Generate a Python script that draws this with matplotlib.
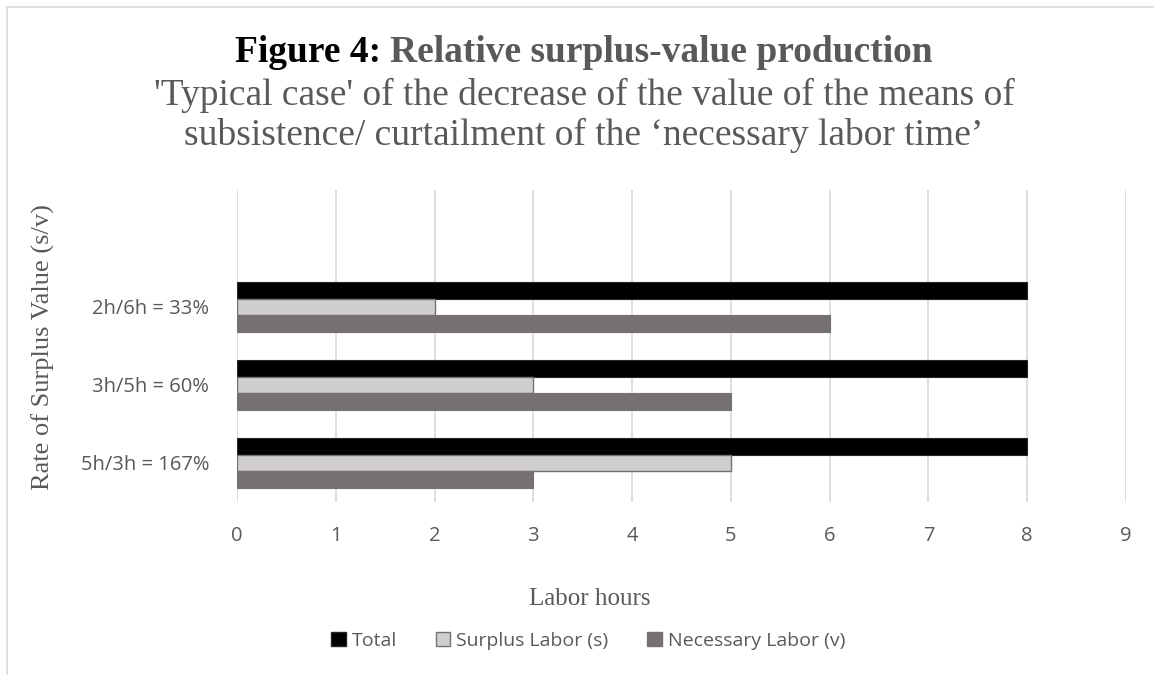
import matplotlib
matplotlib.use("Agg")
import matplotlib.pyplot as plt
from matplotlib.lines import Line2D
from matplotlib.patches import Patch
import numpy as np

categories = ["5h/3h = 167%", "3h/5h = 60%", "2h/6h = 33%"]
total = [8, 8, 8]
surplus = [5, 3, 2]
necessary = [3, 5, 6]
xticks = list(range(0, 10))

W, H = 1154, 675
fig = plt.figure(figsize=(W/100, H/100), dpi=100)
ax = fig.add_axes([237/W, 1-502/H, (1126-237)/W, (502-190)/H])

y = np.arange(len(categories))
h = 0.215
ax.barh(y + h, total, height=h, color="#000000", edgecolor="#262626", linewidth=0.8, zorder=3, label="Total")
ax.barh(y, surplus, height=h, color="#d0cece", edgecolor="#767171", linewidth=1.0, zorder=3, label="Surplus Labor (s)")
ax.barh(y - h, necessary, height=h, color="#767171", edgecolor="#767171", linewidth=0.8, zorder=3, label="Necessary Labor (v)")

ax.set_xlim(0, 9)
ax.set_ylim(-0.5, 3.5)
ax.set_xticks(xticks)
ax.set_yticks(y)
ax.set_yticklabels(categories)
ax.grid(axis="x", color="#d9d9d9", linewidth=1.2, zorder=0)
for s in ax.spines.values():
    s.set_visible(False)
ax.tick_params(axis="both", length=0, labelsize=14.5, labelcolor="#595959")
ax.tick_params(axis="y", pad=20)
ax.tick_params(axis="x", pad=17)
for lab in ax.get_xticklabels() + ax.get_yticklabels():
    lab.set_family("Open Sans")

ax.set_xlabel("Labor hours", family="Liberation Serif", fontsize=18, color="#595959")
ax.set_ylabel("Rate of Surplus Value (s/v)", family="Liberation Serif", fontsize=19, color="#595959")
ax.xaxis.set_label_coords((590 - 237) / 889, (502 - 588) / 312)
ax.yaxis.set_label_coords((55 - 237) / 889, (502 - 347) / 312)

# Title (two colours on one line, centred)
renderer = fig.canvas.get_renderer()
tkw = dict(family="Liberation Serif", fontsize=27, fontweight="bold", va="center")
t1 = fig.text(0, 1-52/H, "Figure 4: ", color="#000000", ha="left", **tkw)
t2 = fig.text(0, 1-52/H, "Relative surplus-value production", color="#595959", ha="left", **tkw)
w1 = t1.get_window_extent(renderer).width
w2 = t2.get_window_extent(renderer).width
x0 = 584 - (w1 + w2) / 2
t1.set_x(x0 / W)
t2.set_x((x0 + w1) / W)

fig.text(584/W, 1-95/H, "'Typical case' of the decrease of the value of the means of",
         ha="center", va="center", family="Liberation Serif", fontsize=27, color="#595959")
fig.text(584/W, 1-135/H, "subsistence/ curtailment of the \u2018necessary labor time\u2019",
         ha="center", va="center", family="Liberation Serif", fontsize=27, color="#595959")

handles = [Patch(facecolor="#000000", edgecolor="#262626"),
           Patch(facecolor="#d0cece", edgecolor="#767171"),
           Patch(facecolor="#767171", edgecolor="#767171")]
fig.legend(handles, ["Total", "Surplus Labor (s)", "Necessary Labor (v)"], loc="center",
           bbox_to_anchor=(588/W, 1-641/H), ncol=3, frameon=False,
           prop={"family": "Open Sans", "size": 14}, labelcolor="#595959",
           handlelength=0.75, handleheight=0.75, handletextpad=0.3, columnspacing=2.0)

fig.add_artist(Line2D([7/W, 1], [1-7/H, 1-7/H], color="#d9d9d9", linewidth=1.2))
fig.add_artist(Line2D([7/W, 7/W], [0, 1-7/H], color="#d9d9d9", linewidth=1.2))

fig.savefig("out.png", dpi=100)
